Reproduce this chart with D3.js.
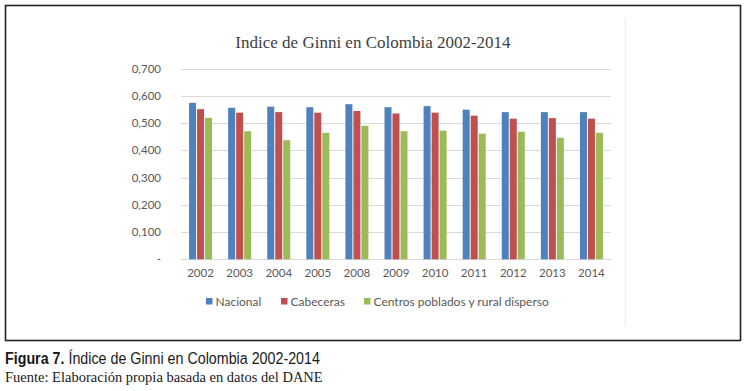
<!DOCTYPE html>
<html><head><meta charset="utf-8">
<script src="https://cdn.jsdelivr.net/npm/d3@7"></script>
<style>
body{margin:0;background:#fff;}
svg{display:block;}
</style></head>
<body>
<svg id="c" width="749" height="391"></svg>
<script>
const years = ["2002","2003","2004","2005","2008","2009","2010","2011","2012","2013","2014"];
const seriesNames = ["Nacional","Cabeceras","Centros poblados y rural disperso"];
const nacional  = [0.574,0.556,0.560,0.558,0.569,0.558,0.562,0.549,0.540,0.540,0.540];
const cabeceras = [0.551,0.538,0.540,0.538,0.544,0.535,0.538,0.527,0.516,0.518,0.516];
const rural     = [0.519,0.470,0.437,0.464,0.490,0.470,0.472,0.461,0.468,0.446,0.464];
const yTicks = [0,0.1,0.2,0.3,0.4,0.5,0.6,0.7];
const yTickLabels = ["-","0,100","0,200","0,300","0,400","0,500","0,600","0,700"];
const colors = ["#4F81BD","#C0504D","#9BBB59"];

const series = [nacional, cabeceras, rural];
const svg = d3.select("#c");

// outer frame
svg.append("rect").attr("x",5.5).attr("y",5.5).attr("width",735).attr("height",335)
  .attr("fill","none").attr("stroke","#222").attr("stroke-width",1.6);
// chart area right edge line
svg.append("line").attr("x1",625.5).attr("x2",625.5).attr("y1",18).attr("y2",326)
  .attr("stroke","#ececec").attr("stroke-width",1.2);

const x0 = d3.scaleBand().domain(years).range([181,611]).paddingInner(0).paddingOuter(0);
const y = d3.scaleLinear().domain([0,0.7]).range([259.3,68.5]);
const barW = 7, gap = 1;

// gridlines
svg.append("g").selectAll("line").data(yTicks).join("line")
  .attr("x1",181).attr("x2",611)
  .attr("y1",d=>Math.round(y(d))+0.5).attr("y2",d=>Math.round(y(d))+0.5)
  .attr("stroke","#d9d9d9").attr("stroke-width",1);

// y axis labels
const yAxis = d3.axisLeft(y).tickValues(yTicks).tickFormat((d,i)=>yTickLabels[i]).tickSize(0).tickPadding(20);
const ya = svg.append("g").attr("transform","translate(181,0)").call(yAxis);
ya.select(".domain").remove();
ya.selectAll("text").attr("font-family","Lato, 'Open Sans', sans-serif").attr("font-size",11.5).attr("fill","#595959");

// x axis labels
const xAxis = d3.axisBottom(x0).tickSize(0).tickPadding(10);
const xa = svg.append("g").attr("transform","translate(0,259.3)").call(xAxis);
xa.select(".domain").remove();
xa.selectAll("text").attr("font-family","Lato, 'Open Sans', sans-serif").attr("font-size",11.5).attr("fill","#595959");

// bars
const groupW = barW*3 + gap*2;
series.forEach((vals,si)=>{
  svg.append("g").selectAll("rect").data(vals).join("rect")
    .attr("x",(d,i)=>x0(years[i]) + x0.bandwidth()/2 - groupW/2 + si*(barW+gap))
    .attr("y",d=>y(d))
    .attr("width",barW)
    .attr("height",d=>y(0)-y(d))
    .attr("fill",colors[si]);
});

// title
svg.append("text").attr("x",373).attr("y",48).attr("text-anchor","middle")
  .attr("font-family","'Liberation Serif', 'Times New Roman', serif").attr("font-size",17)
  .attr("fill","#404040").text("Indice de Ginni en Colombia 2002-2014");

// legend
const legX = [206, 281, 364];
const lg = svg.append("g");
seriesNames.forEach((n,i)=>{
  lg.append("rect").attr("x",legX[i]).attr("y",298).attr("width",6.5).attr("height",6.5).attr("fill",colors[i]);
  lg.append("text").attr("x",legX[i]+9.5).attr("y",305.5)
    .attr("font-family","Lato, 'Open Sans', sans-serif").attr("font-size",12)
    .attr("fill","#595959").text(n);
});

// caption (condensed)
const cap = svg.append("text").attr("transform","translate(5,364) scale(0.84,1)")
  .attr("font-family","'Liberation Sans', Arial, sans-serif").attr("font-size",17).attr("fill","#1a1a1a");
cap.append("tspan").attr("font-weight","bold").text("Figura 7.");
cap.append("tspan").text(" Índice de Ginni en Colombia 2002-2014");
svg.append("text").attr("x",5).attr("y",382)
  .attr("font-family","'Liberation Serif', 'Times New Roman', serif").attr("font-size",14.5).attr("fill","#1a1a1a")
  .text("Fuente: Elaboración propia basada en datos del DANE");
</script>
</body></html>
